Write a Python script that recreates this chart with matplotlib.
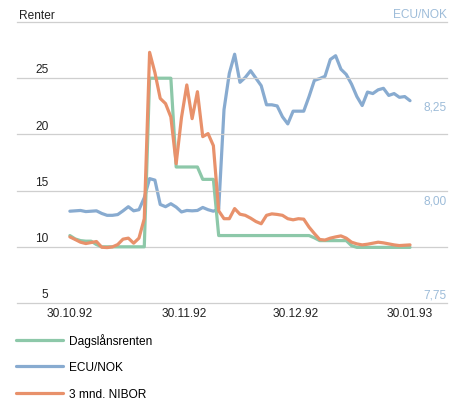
import pandas as pd
import matplotlib
matplotlib.use("Agg")
import matplotlib.pyplot as plt
import matplotlib.dates as mdates

plt.rcParams["font.family"] = ["Liberation Sans", "DejaVu Sans"]

dates = pd.date_range("1992-10-30", "1993-01-30", periods=65)

dagslan = [
    11.0, 10.7, 10.55, 10.5, 10.5, 10.2, 10.0, 10.0, 10.0, 10.0,
    10.0, 10.0, 10.0, 10.0, 10.0, 25.0, 25.0, 25.0, 25.0, 25.0,
    17.1, 17.1, 17.1, 17.1, 17.1, 16.0, 16.0, 16.0, 11.0, 11.0,
    11.0, 11.0, 11.0, 11.0, 11.0, 11.0, 11.0, 11.0, 11.0, 11.0,
    11.0, 11.0, 11.0, 11.0, 11.0, 11.0, 10.8, 10.55, 10.55, 10.55,
    10.55, 10.55, 10.55, 10.1, 9.95, 9.95, 9.95, 9.95, 9.95, 9.95,
    9.95, 9.95, 9.95, 9.95, 9.95,
]

ecu_nok = [
    7.995, 7.996, 7.997, 7.994, 7.995, 7.996, 7.989, 7.984, 7.984, 7.986,
    7.996, 8.007, 7.996, 7.999, 8.031, 8.082, 8.078, 8.013, 8.007, 8.015,
    8.006, 7.993, 7.997, 7.996, 7.997, 8.005, 7.999, 7.995, 8.001, 8.266,
    8.363, 8.414, 8.339, 8.352, 8.370, 8.350, 8.330, 8.279, 8.279, 8.276,
    8.247, 8.228, 8.262, 8.262, 8.262, 8.301, 8.344, 8.349, 8.355, 8.400,
    8.410, 8.374, 8.360, 8.334, 8.301, 8.277, 8.313, 8.309, 8.319, 8.323,
    8.304, 8.309, 8.299, 8.301, 8.290,
]

nibor = [
    10.88, 10.65, 10.41, 10.29, 10.38, 10.47, 9.96, 9.93, 9.99, 10.2,
    10.68, 10.77, 10.32, 10.77, 12.5, 27.3, 25.5, 23.2, 22.74, 21.55,
    17.4, 21.5, 24.4, 21.4, 23.8, 19.8, 20.07, 19.0, 13.2, 12.5,
    12.5, 13.4, 12.9, 12.8, 12.55, 12.25, 12.05, 12.8, 12.93, 12.88,
    12.8, 12.5, 12.4, 12.5, 12.46, 11.75, 11.18, 10.65, 10.6, 10.77,
    10.88, 10.97, 10.77, 10.41, 10.26, 10.17, 10.23, 10.32, 10.41, 10.35,
    10.26, 10.17, 10.11, 10.14, 10.17,
]

left_ticks = [5, 10, 15, 20, 25]
right_ticks = [7.75, 8.00, 8.25]
x_ticks = pd.to_datetime(["1992-10-30", "1992-11-30", "1992-12-30", "1993-01-30"])

GREEN = "#8dc8a9"
BLUE = "#88abd0"
ORANGE = "#e8916b"
LIGHT_BLUE = "#9dbcd9"
GRID = "#cfcfcf"
LW = 2.3
FS = 8.6


def main() -> None:
    fig = plt.figure(figsize=(4.63, 4.02), dpi=100)
    ax = fig.add_axes([17 / 463, 1 - 304 / 402, 430 / 463, 281 / 402])
    ax2 = ax.twinx()

    # left axis: interest rates
    l1, = ax.plot(dates, dagslan, color=GREEN, lw=LW, solid_capstyle="round",
                  label="Dagslånsrenten", zorder=3)
    l3, = ax.plot(dates, nibor, color=ORANGE, lw=LW, solid_capstyle="round",
                  label="3 mnd. NIBOR", zorder=5)
    # right axis: ECU/NOK
    l2, = ax2.plot(dates, ecu_nok, color=BLUE, lw=LW, solid_capstyle="round",
                   label="ECU/NOK", zorder=4)

    ax.set_ylim(5, 30)
    ax2.set_ylim(7.75, 8.5)
    ax.set_xlim(dates[0] - pd.Timedelta(days=14.3), dates[-1] + pd.Timedelta(days=10))

    # rate lines drawn over the ECU line
    ax.set_zorder(ax2.get_zorder() + 1)
    ax.patch.set_visible(False)

    for a in (ax, ax2):
        for s in a.spines.values():
            s.set_visible(False)
        a.set_yticks([])
        a.tick_params(length=0)

    for v in [5, 10, 15, 20, 25, 30]:
        ax.axhline(v, color=GRID, lw=0.9, zorder=1, clip_on=False)

    for v in left_ticks:
        ax.annotate(str(v), xy=(0.073, v), xycoords=("axes fraction", "data"),
                    xytext=(0, 2), textcoords="offset points",
                    ha="right", va="bottom", fontsize=FS, color="#222222")
    for v in right_ticks:
        ax2.annotate(f"{v:.2f}".replace(".", ","), xy=(1.0, v),
                     xycoords=("axes fraction", "data"),
                     xytext=(0, 2), textcoords="offset points",
                     ha="right", va="bottom", fontsize=FS, color=LIGHT_BLUE)

    ax.set_xticks(x_ticks)
    ax.xaxis.set_major_formatter(mdates.DateFormatter("%d.%m.%y"))
    ax.tick_params(axis="x", labelsize=FS, pad=3, colors="#222222")

    fig.text(19 / 463, 1 - 16 / 402, "Renter", ha="left", va="center",
             fontsize=FS, color="#222222")
    fig.text(447 / 463, 1 - 15 / 402, "ECU/NOK", ha="right", va="center",
             fontsize=FS, color=LIGHT_BLUE)

    fig.legend(handles=[l1, l2, l3], loc="upper left",
               bbox_to_anchor=(16 / 463, 1 - 334 / 402), frameon=False,
               fontsize=FS, handlelength=3.9, handletextpad=0.55,
               labelspacing=1.22, borderpad=0, borderaxespad=0)

    fig.savefig("out.png", dpi=100)


if __name__ == "__main__":
    main()
